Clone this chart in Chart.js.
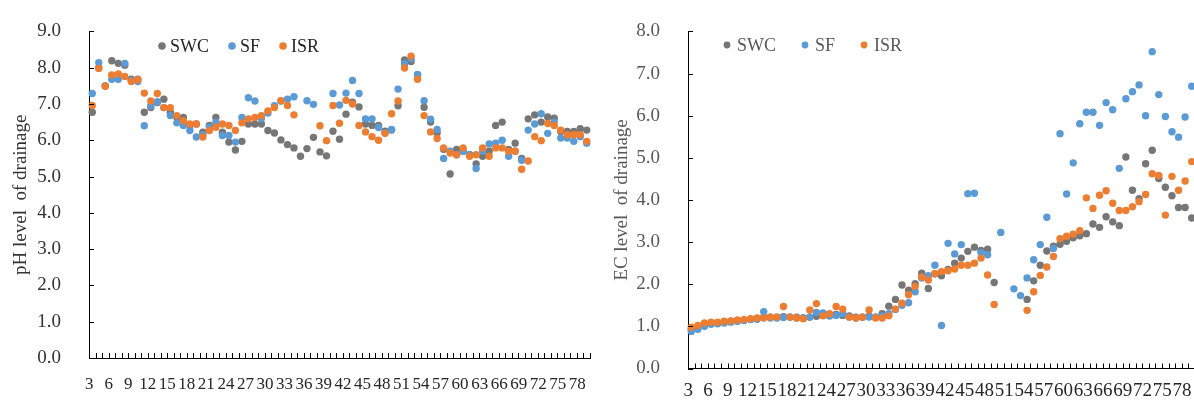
<!DOCTYPE html>
<html>
<head>
<meta charset="utf-8">
<script src="https://cdn.jsdelivr.net/npm/chart.js@4.4.1/dist/chart.umd.min.js"></script>
<style>
  html, body { margin: 0; padding: 0; background: #fff; overflow: hidden; width: 1194px; height: 400px; }
  #phChart { position: absolute; left: 0; top: 0; }
  #ecChart { position: absolute; left: 590px; top: 0; }
</style>
</head>
<body>
<canvas id="phChart" width="600" height="400"></canvas>
<canvas id="ecChart" width="612" height="400"></canvas>
<script>
// Drainage pH and EC, sampling days 3..79

var days = [3, 4, 5, 6, 7, 8, 9, 10, 11, 12, 13, 14, 15, 16, 17, 18, 19, 20, 21, 22,
  23, 24, 25, 26, 27, 28, 29, 30, 31, 32, 33, 34, 35, 36, 37, 38, 39, 40, 41, 42,
  43, 44, 45, 46, 47, 48, 49, 50, 51, 52, 53, 54, 55, 56, 57, 58, 59, 60, 61, 62,
  63, 64, 65, 66, 67, 68, 69, 70, 71, 72, 73, 74, 75, 76, 77, 78, 79];

var seriesNames = ['SWC', 'SF', 'ISR'];

var phSWC = [6.77, 8.0, 7.5, 8.19, 8.12, 8.07, 7.68, 7.68, 6.77, 6.9, 7.04, 7.13, 6.77, 6.63, 6.63, 6.41, 6.45, 6.22, 6.41, 6.63,
  6.22, 5.95, 5.73, 5.97, 6.45, 6.45, 6.45, 6.27, 6.2, 6.01, 5.88, 5.79, 5.56, 5.77, 6.08, 5.68, 5.57, 6.25, 6.03, 6.72,
  7.05, 6.92, 6.45, 6.41, 6.41, 6.25, 6.28, 6.95, 8.21, 8.17, 7.81, 6.91, 6.5, 6.2, 5.75, 5.07, 5.75, 5.7, 5.6, 5.35,
  5.56, 5.7, 6.41, 6.5, 5.75, 5.92, 5.5, 6.59, 6.7, 6.5, 6.64, 6.61, 6.24, 6.24, 6.24, 6.32, 6.28];
var phSF = [7.29, 8.14, 7.5, 7.68, 7.68, 8.12, 7.65, 7.62, 6.4, 6.95, 7.06, 6.9, 6.68, 6.48, 6.41, 6.27, 6.09, 6.15, 6.36, 6.5,
  6.13, 6.13, 5.95, 6.63, 7.17, 7.08, 6.6, 6.75, 6.95, 7.08, 7.13, 7.2, null, 7.09, 6.99, null, null, 7.29, 6.97, 7.3,
  7.65, 7.29, 6.59, 6.59, 6.35, 6.2, 6.3, 7.41, 8.1, 8.25, 7.81, 7.09, 6.58, 6.3, 5.5, 5.7, 5.6, 5.7, 5.6, 5.22,
  5.7, 5.9, 5.92, 6.0, 5.56, 5.7, 5.45, 6.28, 6.45, 6.73, 6.19, 6.5, 6.06, 6.06, 5.97, 6.1, 5.92];
var phISR = [6.96, 7.98, 7.49, 7.8, 7.83, 7.76, 7.62, 7.67, 7.3, 7.08, 7.29, 6.9, 6.9, 6.68, 6.54, 6.45, 6.45, 6.09, 6.27, 6.36,
  6.45, 6.41, 6.27, 6.48, 6.59, 6.63, 6.68, 6.81, 6.9, 7.09, 6.96, 6.7, null, null, null, 6.4, 5.99, 6.96, 6.47, 7.1,
  7.0, 6.41, 6.23, 6.1, 6.0, 6.19, 6.73, 7.08, 7.99, 8.32, 7.68, 6.68, 6.23, 6.05, 5.79, 5.65, 5.6, 5.79, 5.56, 5.6,
  5.79, 5.56, 5.79, 5.79, 5.7, 5.7, 5.2, 5.43, 6.1, 5.99, 6.46, 6.41, 6.28, 6.15, 6.15, 6.15, 5.97];

var ecSWC = [0.93, 0.98, 1.04, 1.07, 1.08, 1.1, 1.12, 1.13, 1.15, 1.17, 1.18, 1.22, 1.22, 1.22, 1.23, 1.22, 1.22, 1.2, 1.22, 1.24,
  1.26, 1.25, 1.28, 1.26, 1.25, 1.22, 1.22, 1.24, 1.22, 1.3, 1.48, 1.64, 1.98, 1.86, 2.01, 2.26, 1.9, 2.25, 2.2, 2.35,
  2.5, 2.62, 2.78, 2.88, 2.8, 2.83, 2.04, null, null, null, null, 1.64, 2.08, 2.45, 2.79, 2.9, 2.95, 3.02, 3.1, 3.15,
  3.2, 3.43, 3.35, 3.6, 3.48, 3.39, 5.02, 4.23, 4.03, 4.86, 5.18, 4.51, 4.3, 4.1, 3.82, 3.82, 3.57];
var ecSF = [0.88, 0.93, 1.0, 1.05, 1.06, 1.08, 1.1, 1.12, 1.14, 1.16, 1.17, 1.35, 1.2, 1.2, 1.21, 1.22, 1.2, 1.2, 1.22, 1.33,
  1.32, 1.25, 1.26, 1.3, 1.22, 1.2, 1.22, 1.22, 1.22, 1.25, 1.3, 1.4, 1.5, 1.56, 1.82, 2.15, 2.2, 2.45, 1.02, 2.97,
  2.72, 2.94, 4.15, 4.16, 2.75, 2.7, null, 3.23, null, 1.89, 1.73, 2.15, 2.58, 2.94, 3.59, 2.85, 5.57, 4.14, 4.88, 5.81,
  6.08, 6.08, 5.77, 6.31, 6.14, 4.75, 6.4, 6.57, 6.73, 6.0, 7.52, 6.5, 5.98, 5.62, 5.49, 5.97, 6.7];
var ecISR = [0.98, 1.02, 1.08, 1.1, 1.1, 1.12, 1.13, 1.15, 1.16, 1.18, 1.2, 1.2, 1.22, 1.22, 1.47, 1.22, 1.2, 1.18, 1.39, 1.54,
  1.25, 1.3, 1.47, 1.41, 1.22, 1.2, 1.22, 1.39, 1.2, 1.2, 1.25, 1.41, 1.55, 1.75, 1.95, 2.17, 2.1, 2.25, 2.3, 2.32,
  2.36, 2.45, 2.45, 2.5, 2.62, 2.22, 1.52, null, null, null, null, 1.38, 1.82, 2.21, 2.41, 2.66, 3.08, 3.14, 3.19, 3.27,
  4.05, 3.8, 4.11, 4.22, 3.92, 3.75, 3.75, 3.84, 3.96, 4.13, 4.62, 4.58, 3.64, 4.56, 4.23, 4.45, 4.91];

var colors = ['#767676', '#5b9bd5', '#ed7d31'];
var serif = '"Liberation Serif", "Times New Roman", serif';
var TICK_LEN = 5;

// short tick marks pointing into the plot, one per category boundary and per y step
var innerTicks = {
  id: 'innerTicks',
  afterDraw: function (chart) {
    var ctx = chart.ctx, xs = chart.scales.x, ys = chart.scales.y;
    var area = chart.chartArea;
    var n = chart.data.labels.length;
    var step = (area.right - area.left) / n;
    var i, px, py, v;
    ctx.save();
    ctx.strokeStyle = '#000';
    ctx.lineWidth = 1;
    ctx.beginPath();
    for (i = 0; i <= n; i++) {
      px = Math.round(area.left + i * step) + 0.5;
      ctx.moveTo(px, area.bottom);
      ctx.lineTo(px, area.bottom - TICK_LEN);
    }
    for (v = ys.min; v <= ys.max; v += 1) {
      py = Math.round(ys.getPixelForValue(v)) + 0.5;
      ctx.moveTo(area.left, py);
      ctx.lineTo(area.left + TICK_LEN, py);
    }
    ctx.stroke();
    ctx.restore();
  }
};

// legend sitting inside the plot area
var insideLegend = {
  id: 'insideLegend',
  afterDraw: function (chart, args, opts) {
    var ctx = chart.ctx;
    var x = opts.x;
    ctx.save();
    ctx.font = opts.font;
    ctx.textBaseline = 'middle';
    ctx.textAlign = 'left';
    chart.data.datasets.forEach(function (ds) {
      ctx.fillStyle = ds.backgroundColor;
      ctx.beginPath();
      ctx.arc(x, opts.y, opts.radius, 0, Math.PI * 2);
      ctx.fill();
      ctx.fillStyle = opts.color;
      ctx.fillText(ds.label, x + opts.textGap, opts.y + 1);
      x += opts.textGap + ctx.measureText(ds.label).width + opts.itemGap;
    });
    ctx.restore();
  }
};

function buildDatasets(values) {
  return values.map(function (v, k) {
    return {
      label: seriesNames[k],
      data: v,
      showLine: false,
      backgroundColor: colors[k],
      borderColor: colors[k],
      pointBackgroundColor: colors[k],
      order: 2 - k
    };
  });
}

function drawChart(id, values, cfg) {
  return new Chart(document.getElementById(id), {
    type: 'line',
    data: { labels: days, datasets: buildDatasets(values) },
    plugins: [innerTicks, insideLegend],
    options: {
      responsive: false,
      animation: false,
      events: [],
      layout: { padding: { top: cfg.top, right: cfg.right, left: 0, bottom: 0 } },
      elements: { point: { radius: 3.7, hoverRadius: 3.7, borderWidth: 0 } },
      plugins: {
        legend: { display: false },
        tooltip: { enabled: false },
        insideLegend: cfg.legend
      },
      scales: {
        x: {
          type: 'category',
          offset: true,
          grid: { display: false },
          border: { display: true, color: '#000', width: 1 },
          ticks: {
            autoSkip: false,
            maxRotation: 0,
            minRotation: 0,
            padding: cfg.xPad,
            labelOffset: -3,
            color: '#262626',
            font: { family: serif, size: cfg.xFont },
            callback: function (v) {
              var d = this.getLabelForValue(v);
              return d % 3 === 0 ? String(d) : '';
            }
          },
          afterFit: function (s) { s.height = cfg.xHeight; }
        },
        y: {
          min: 0,
          max: cfg.yMax,
          grid: { display: false },
          border: { display: true, color: '#000', width: 1 },
          ticks: {
            stepSize: 1,
            padding: 20,
            color: cfg.tickColor,
            font: { family: serif, size: 19 },
            callback: function (v) { return v.toFixed(1); }
          },
          title: {
            display: true,
            text: cfg.title,
            color: cfg.tickColor,
            font: { family: serif, size: 19 },
            padding: { top: cfg.titlePad, bottom: 0 }
          },
          afterFit: function (s) { s.width = cfg.yWidth; }
        }
      }
    }
  });
}

drawChart('phChart', [phSWC, phSF, phISR], {
  yMax: 9, top: 24, right: 10, yWidth: 89, xHeight: 42, xPad: 8, xFont: 17,
  tickColor: '#333333', title: 'pH level  of drainage', titlePad: 10,
  legend: { x: 162, y: 46, radius: 3.8, textGap: 8, itemGap: 23,
            font: '18px ' + serif, color: '#262626' }
});

drawChart('ecChart', [ecSWC, ecSF, ecISR], {
  yMax: 8, top: 17, right: 7, yWidth: 98, xHeight: 31.5, xPad: 3, xFont: 19,
  tickColor: '#595959', title: 'EC level  of drainage', titlePad: 21,
  legend: { x: 137, y: 45, radius: 3.4, textGap: 10, itemGap: 29,
            font: '18px ' + serif, color: '#595959' }
});
</script>
</body>
</html>
